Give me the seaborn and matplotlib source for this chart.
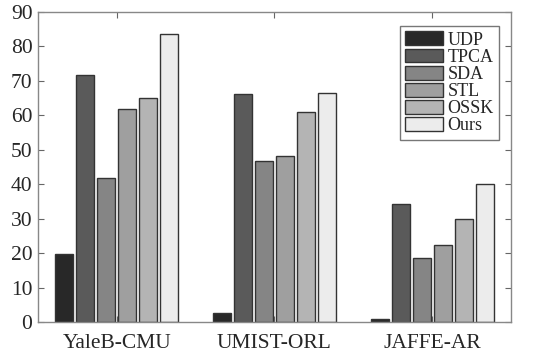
import numpy as np
import pandas as pd
import seaborn as sns
import matplotlib.pyplot as plt

# データ
datasets = ["YaleB-CMU", "UMIST-ORL", "JAFFE-AR"]
methods = ["UDP", "TPCA", "SDA", "STL", "OSSK", "Ours"]
udp = [19.7, 2.7, 0.8]
tpca = [71.6, 66.2, 34.4]
sda = [41.7, 46.6, 18.5]
stl = [61.9, 48.2, 22.4]
ossk = [65.0, 60.9, 30.0]
ours = [83.5, 66.5, 40.1]
colors = ["#282828", "#5a5a5a", "#858585", "#9f9f9f", "#b4b4b4", "#ececec"]

series = [udp, tpca, sda, stl, ossk, ours]
rows = []
for m, vals in zip(methods, series):
    for d, v in zip(datasets, vals):
        rows.append({"dataset": d, "method": m, "acc": v})
df = pd.DataFrame(rows)

sns.set_style("ticks")
plt.rcParams["font.family"] = ["Liberation Serif", "DejaVu Serif"]

fig = plt.figure(figsize=(5.47, 3.56), dpi=100)
ax = fig.add_axes([38 / 547, 1 - 322 / 356, 473 / 547, 310 / 356])

sns.barplot(data=df, x="dataset", y="acc", hue="method", order=datasets,
            hue_order=methods, palette=colors, width=0.8, gap=0.15,
            edgecolor="#333333", linewidth=1.0, saturation=1, ax=ax)

ax.set_xlim(-0.5, 2.5)
ax.set_ylim(0, 90)
ax.set_yticks(np.arange(0, 91, 10))
ax.set_xlabel("")
ax.set_ylabel("")
ax.tick_params(axis="both", direction="in", top=True, right=True,
               labelsize=15.5, length=4, color="#666666", pad=4)
ax.tick_params(axis="x", pad=9)
for s in ax.spines.values():
    s.set_visible(True)
    s.set_color("#888888")
    s.set_linewidth(1.0)

leg = ax.legend(loc="upper right", bbox_to_anchor=(0.975, 0.955), fontsize=13,
                frameon=True, fancybox=False, edgecolor="#555555",
                handlelength=2.1, handleheight=0.8, handletextpad=0.25,
                labelspacing=0.0, borderpad=0.3, borderaxespad=0.0)
leg.get_frame().set_linewidth(1.0)

fig.savefig("out.png", dpi=100)
